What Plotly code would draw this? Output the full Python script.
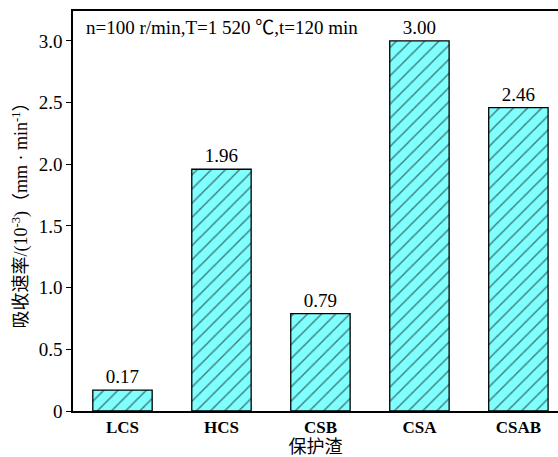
import plotly.graph_objects as go

categories = ["LCS", "HCS", "CSB", "CSA", "CSAB"]
values = [0.17, 1.96, 0.79, 3.00, 2.46]
value_labels = ["0.17", "1.96", "0.79", "3.00", "2.46"]
y_ticks = [0, 0.5, 1.0, 1.5, 2.0, 2.5, 3.0]
y_tick_labels = ["0", "0.5", "1.0", "1.5", "2.0", "2.5", "3.0"]

serif = "Times New Roman, Liberation Serif, serif"
cjk = "Times New Roman, Liberation Serif, Noto Sans CJK SC, serif"

fig = go.Figure()
fig.add_trace(go.Bar(
    x=list(range(len(categories))),
    y=values,
    width=0.6,
    text=value_labels,
    textposition="outside",
    cliponaxis=False,
    textfont=dict(family=serif, size=19, color="black"),
    marker=dict(
        color="#80FFFF",
        line=dict(color="black", width=1.3),
        pattern=dict(shape="/", fgcolor="black", bgcolor="#80FFFF", size=10, solidity=0.15),
    ),
))

fig.add_annotation(
    text="n=100 r/min,T=1 520 ℃,t=120 min",
    xref="paper", yref="paper", x=0.022, y=0.99, xanchor="left", yanchor="top",
    showarrow=False, font=dict(family=cjk, size=19, color="black"),
)

fig.update_layout(
    width=558, height=457,
    margin=dict(l=73, r=0, t=11, b=46),
    paper_bgcolor="white", plot_bgcolor="white",
    showlegend=False,
    xaxis=dict(
        range=[-0.5, 4.40],
        tickmode="array",
        tickvals=list(range(len(categories))),
        ticktext=["<b>" + c + "</b>" for c in categories],
        tickfont=dict(family=serif, size=17, color="black"),
        showline=True, linecolor="black", linewidth=1.5, mirror=True,
        ticks="", showgrid=False, zeroline=False, automargin=False,
        title=dict(text="保护渣", font=dict(family=cjk, size=18, color="black"), standoff=6),
    ),
    yaxis=dict(
        range=[0, 3.243],
        tickmode="array",
        tickvals=y_ticks,
        ticktext=y_tick_labels,
        tickfont=dict(family=serif, size=19, color="black"),
        showline=True, linecolor="black", linewidth=1.5,
        ticks="outside", ticklen=5, tickwidth=1.2, tickcolor="black",
        showgrid=False, zeroline=False,
        title=dict(text="吸收速率/(10<sup>-3</sup>)（mm · min<sup>-1</sup>）",
                   font=dict(family=cjk, size=18, color="black"), standoff=6),
    ),
)

fig.write_html("out.html")
